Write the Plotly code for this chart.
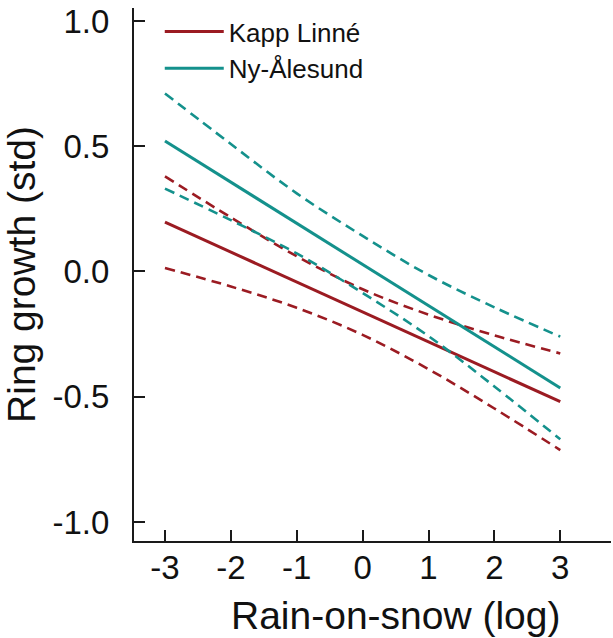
import plotly.graph_objects as go

# ---- data ----
x_vals = [-3, -2, -1, 0, 1, 2, 3]

kapp_fit = [0.197, 0.078, -0.042, -0.162, -0.281, -0.401, -0.520]
kapp_upper = [0.380, 0.216, 0.061, -0.071, -0.172, -0.255, -0.327]
kapp_lower = [0.014, -0.060, -0.145, -0.253, -0.390, -0.547, -0.713]

ny_fit = [0.521, 0.357, 0.192, 0.028, -0.136, -0.301, -0.465]
ny_upper = [0.711, 0.509, 0.312, 0.142, -0.014, -0.143, -0.260]
ny_lower = [0.331, 0.205, 0.072, -0.086, -0.258, -0.459, -0.670]

x_tickvals = [-3, -2, -1, 0, 1, 2, 3]
x_ticktext = ["-3", "-2", "-1", "0", "1", "2", "3"]
y_tickvals = [-1.0, -0.5, 0.0, 0.5, 1.0]
y_ticktext = ["-1.0", "-0.5", "0.0", "0.5", "1.0"]

series_names = ["Kapp Linné", "Ny-Ålesund"]
RED = "#9B1B22"
TEAL = "#14918C"
FONT = "Liberation Sans, Arial, sans-serif"

fig = go.Figure()

def add_site(name, fit, up, lo, color):
    dash = dict(color=color, width=2.6, dash="10px,6px")
    fig.add_trace(go.Scatter(x=x_vals, y=up, mode="lines", line=dict(shape="spline", **dash),
                             showlegend=False, hoverinfo="skip"))
    fig.add_trace(go.Scatter(x=x_vals, y=lo, mode="lines", line=dict(shape="spline", **dash),
                             showlegend=False, hoverinfo="skip"))
    fig.add_trace(go.Scatter(x=x_vals, y=fit, mode="lines", name=name,
                             line=dict(color=color, width=3)))

add_site(series_names[0], kapp_fit, kapp_upper, kapp_lower, RED)
add_site(series_names[1], ny_fit, ny_upper, ny_lower, TEAL)

axis_common = dict(
    showline=True, linecolor="#1a1a1a", linewidth=2,
    ticks="inside", ticklen=11, tickwidth=2, tickcolor="#1a1a1a",
    showgrid=False, zeroline=False, automargin=False,
    tickfont=dict(family=FONT, size=33, color="#111"),
)

fig.update_layout(
    width=613, height=638,
    paper_bgcolor="white", plot_bgcolor="white",
    margin=dict(l=134, r=2, t=8, b=97),
    font=dict(family=FONT, color="#111"),
    xaxis=dict(range=[-3.47, 3.77], tickvals=x_tickvals, ticktext=x_ticktext,
               ticklabelstandoff=-4, **axis_common),
    yaxis=dict(range=[-1.076, 1.052], tickvals=y_tickvals, ticktext=y_ticktext,
               ticklabelstandoff=16,
               title=dict(text="Ring growth (std)", font=dict(family=FONT, size=39, color="#111"),
                          standoff=14),
               **axis_common),
    legend=dict(x=0.054, y=1.0, xanchor="left", yanchor="top",
                font=dict(family=FONT, size=26, color="#111"),
                bgcolor="rgba(0,0,0,0)", itemwidth=59, tracegroupgap=0),
    annotations=[dict(text="Rain-on-snow (log)", xref="paper", yref="paper",
                      x=0.548, y=-0.095, xanchor="center", yanchor="top", showarrow=False,
                      font=dict(family=FONT, size=39, color="#111"))],
)

fig.write_html("out.html", config={"displayModeBar": False},
               post_script="document.body.style.margin='0';")
